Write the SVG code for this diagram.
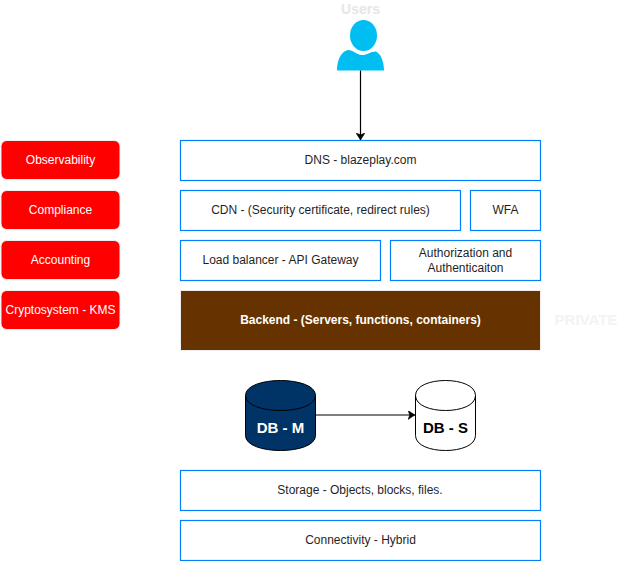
<svg xmlns="http://www.w3.org/2000/svg" width="631" height="561" viewBox="0 0 631 561">
<defs>
<marker id="arr" markerUnits="userSpaceOnUse" markerWidth="8" markerHeight="9" refX="7" refY="4.5" orient="auto"><path d="M0 0L7 4.5L0 9L1.75 4.5Z" fill="#000" stroke="#000" stroke-width="0.5"/></marker>
</defs>
<style>
text{font-family:"Liberation Sans",Arial,sans-serif;font-size:12px;text-anchor:middle}
.b{fill:#fff;stroke:#007fff;stroke-width:1.2}
.r{fill:#f00;stroke:#eee;stroke-width:1}
.w{fill:#fff}
.d{fill:#1f1f1f}
.bold{font-weight:bold}
.c{stroke:#000;stroke-width:1.2;fill:none}
.db{font-size:15px}
</style>
<rect width="631" height="561" fill="#fff"/>
<g id="users">
<text x="360.500" y="14" class="bold" style="font-size:14px" fill="#e6e6e6">Users</text>
<ellipse cx="363.500" cy="35.500" rx="13.500" ry="15.500" fill="#00bef2"/>
<path d="M337 70.500C337 62 340 52 348 50C353 50 357 55 362 55C367 55 372 51 376 51.500C381 54 384 62 384 70.500Z" fill="#00bef2"/>
</g>
<g id="connectors">
<path class="c" d="M360.500 70.500V140" marker-end="url(#arr)"/>
<path class="c" d="M315.500 415H415" marker-end="url(#arr)"/>
</g>
<g id="observability"><rect class="r" x="1" y="140.500" width="119" height="39" rx="5.850"/><text class="w" x="60.500" y="164">Observability</text></g>
<g id="compliance"><rect class="r" x="1" y="190.500" width="119" height="39" rx="5.850"/><text class="w" x="60.500" y="214">Compliance</text></g>
<g id="accounting"><rect class="r" x="1" y="240.500" width="119" height="39" rx="5.850"/><text class="w" x="60.500" y="264">Accounting</text></g>
<g id="kms"><rect class="r" x="1" y="290.500" width="119" height="39" rx="5.850"/><text class="w" x="60.500" y="314">Cryptosystem - KMS</text></g>
<g id="dns"><rect class="b" x="180.500" y="140.500" width="360" height="40"/><text class="d" x="360.500" y="164">DNS - blazeplay.com</text></g>
<g id="cdn"><rect class="b" x="180.500" y="190.500" width="280" height="40"/><text class="d" x="320.500" y="214">CDN - (Security certificate, redirect rules)</text></g>
<g id="wfa"><rect class="b" x="470.500" y="190.500" width="70" height="40"/><text class="d" x="505.500" y="214">WFA</text></g>
<g id="lb"><rect class="b" x="180.500" y="240.500" width="200" height="40"/><text class="d" x="280.500" y="264">Load balancer - API Gateway</text></g>
<g id="auth"><rect class="b" x="390.500" y="240.500" width="150" height="40"/><text class="d" x="465.500" y="257">Authorization and</text><text class="d" x="465.500" y="272">Authenticaiton</text></g>
<g id="backend"><rect x="180.500" y="290.500" width="360" height="60" fill="#663300" stroke="#eee"/><text class="w bold" x="360.500" y="324">Backend - (Servers, functions, containers)</text></g>
<g id="private"><text x="586" y="325" class="bold" style="font-size:15px" fill="#f3f3f3">PRIVATE</text></g>
<g id="db-m"><path d="M245.500 395.500C245.500 375.500 315.500 375.500 315.500 395.500V435.500C315.500 455.500 245.500 455.500 245.500 435.500Z" fill="#003366" stroke="#000"/><path d="M245.500 395.500C245.500 415.500 315.500 415.500 315.500 395.500" fill="none" stroke="#000"/><text class="w bold db" x="280.500" y="433">DB - M</text></g>
<g id="db-s"><path d="M415.500 395.500C415.500 375.500 475.500 375.500 475.500 395.500V435.500C475.500 455.500 415.500 455.500 415.500 435.500Z" fill="#fff" stroke="#000"/><path d="M415.500 395.500C415.500 415.500 475.500 415.500 475.500 395.500" fill="none" stroke="#000"/><text class="bold db" x="445.500" y="433" fill="#000">DB - S</text></g>
<g id="storage"><rect class="b" x="180.500" y="470.500" width="360" height="40"/><text class="d" x="360" y="494">Storage - Objects, blocks, files.</text></g>
<g id="connectivity"><rect class="b" x="180.500" y="520.500" width="360" height="40"/><text class="d" x="360.500" y="544">Connectivity - Hybrid</text></g>
</svg>
